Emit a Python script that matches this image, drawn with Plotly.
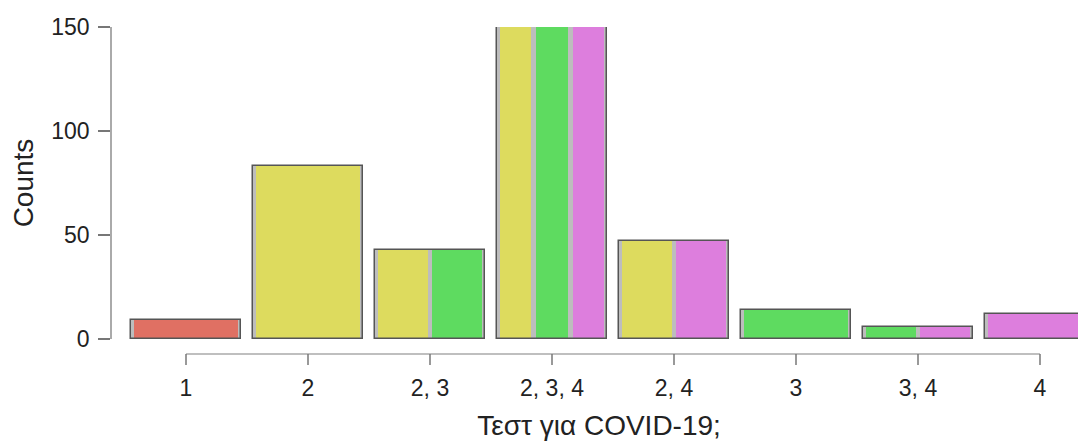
import plotly.graph_objects as go

categories = ["1", "2", "2, 3", "2, 3, 4", "2, 4", "3", "3, 4", "4"]
counts = [9, 83, 43, 150, 47, 14, 6, 12]
option_colors = {"1": "#E07063", "2": "#DDDB5E", "3": "#5EDB60", "4": "#DD7EDD"}

BAR_W = 0.9
INSET = 0.02

fig = go.Figure()
idx = list(range(len(categories)))

# grey base bars
fig.add_trace(go.Bar(x=idx, y=counts, width=BAR_W, marker=dict(color="#BDBDBD", line=dict(width=0)),
                     hoverinfo="skip", showlegend=False))

# coloured segments
for opt, col in option_colors.items():
    xs, ys, offs, ws = [], [], [], []
    for i, (cat, n) in enumerate(zip(categories, counts)):
        parts = cat.split(", ")
        if opt in parts:
            k = parts.index(opt)
            seg = BAR_W / len(parts)
            xs.append(i)
            ys.append(n)
            offs.append(-BAR_W / 2 + k * seg + INSET)
            ws.append(seg - 2 * INSET)
    fig.add_trace(go.Bar(x=xs, y=ys, offset=offs, width=ws,
                         marker=dict(color=col, line=dict(width=0)),
                         showlegend=False, name=opt))

# outlines
fig.add_trace(go.Bar(x=idx, y=counts, width=BAR_W,
                     marker=dict(color="rgba(0,0,0,0)", line=dict(color="#555555", width=1.5)),
                     hoverinfo="skip", showlegend=False))

# R-style detached x axis line and ticks
fig.add_shape(type="line", xref="x", yref="paper", x0=0, x1=len(categories) - 1,
              y0=-15 / 312, y1=-15 / 312, line=dict(color="#AAAAAA", width=1.5))
for i in idx:
    fig.add_shape(type="line", xref="x", yref="paper", x0=i, x1=i,
                  y0=-15 / 312, y1=-26 / 312, line=dict(color="#777777", width=1.5))

font = "Arial, Liberation Sans, Helvetica, sans-serif"
fig.update_layout(
    width=1078, height=433,
    margin=dict(l=104, r=0, t=19, b=102),
    paper_bgcolor="white", plot_bgcolor="white",
    barmode="overlay", bargap=0,
    font=dict(family=font, color="#222222", size=23),
    xaxis=dict(
        range=[(112 - 186) / 122, (1086 - 186) / 122],
        tickmode="array", tickvals=idx, ticktext=categories,
        ticks="", showline=False, showgrid=False, zeroline=False,
        ticklabelstandoff=33,
        tickfont=dict(size=23, family=font, color="#222222"),
        title=dict(text="Τεστ για COVID-19;", font=dict(size=28, family=font, color="#222222"), standoff=16),
        automargin=False,
    ),
    yaxis=dict(
        range=[0, 150], tickvals=[0, 50, 100, 150],
        ticks="outside", ticklen=12, tickcolor="#777777", tickwidth=1.5,
        showline=True, linecolor="#AAAAAA", linewidth=1.5,
        showgrid=False, zeroline=False,
        ticklabelstandoff=4,
        tickfont=dict(size=23, family=font, color="#222222"),
        title=dict(text="Counts", font=dict(size=28, family=font, color="#222222"), standoff=12),
        automargin=False,
    ),
)

fig.write_html("out.html")
